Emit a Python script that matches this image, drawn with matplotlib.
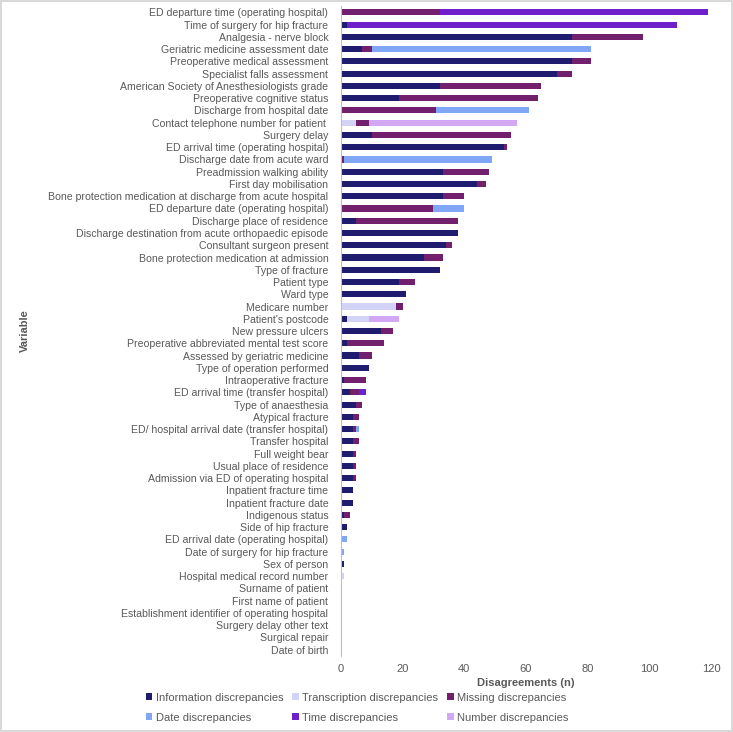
import matplotlib
matplotlib.use("Agg")
import matplotlib.pyplot as plt
import numpy as np

plt.rcParams["font.family"] = ["Liberation Sans", "DejaVu Sans"]

variables = [
    "ED departure time (operating hospital)",
    "Time of surgery for hip fracture",
    "Analgesia - nerve block",
    "Geriatric medicine assessment date",
    "Preoperative medical assessment",
    "Specialist falls assessment",
    "American Society of Anesthesiologists grade",
    "Preoperative cognitive status",
    "Discharge from hospital date",
    "Contact telephone number for patient ",
    "Surgery delay",
    "ED arrival time (operating hospital)",
    "Discharge date from acute ward",
    "Preadmission walking ability",
    "First day mobilisation",
    "Bone protection medication at discharge from acute hospital",
    "ED departure date (operating hospital)",
    "Discharge place of residence",
    "Discharge destination from acute orthopaedic episode",
    "Consultant surgeon present",
    "Bone protection medication at admission",
    "Type of fracture",
    "Patient type",
    "Ward type",
    "Medicare number",
    "Patient's postcode",
    "New pressure ulcers",
    "Preoperative abbreviated mental test score",
    "Assessed by geriatric medicine",
    "Type of operation performed",
    "Intraoperative fracture",
    "ED arrival time (transfer hospital)",
    "Type of anaesthesia",
    "Atypical fracture",
    "ED/ hospital arrival date (transfer hospital)",
    "Transfer hospital",
    "Full weight bear",
    "Usual place of residence",
    "Admission via ED of operating hospital",
    "Inpatient fracture time",
    "Inpatient fracture date",
    "Indigenous status",
    "Side of hip fracture",
    "ED arrival date (operating hospital)",
    "Date of surgery for hip fracture",
    "Sex of person",
    "Hospital medical record number",
    "Surname of patient",
    "First name of patient",
    "Establishment identifier of operating hospital",
    "Surgery delay other text",
    "Surgical repair",
    "Date of birth",
]

information = [0, 2, 75, 7, 75, 70, 32, 19, 0, 0, 10, 53, 0, 33, 44, 33, 0, 5, 38, 34, 27, 32, 19, 21,
               0, 2, 13, 2, 6, 9, 1, 3, 5, 4, 4, 4, 4, 4, 4, 4, 4, 1, 2, 0, 0, 1, 0, 0, 0, 0, 0, 0, 0]
transcription = [0, 0, 0, 0, 0, 0, 0, 0, 0, 5, 0, 0, 0, 0, 0, 0, 0, 0, 0, 0, 0, 0, 0, 0,
                 18, 7, 0, 0, 0, 0, 0, 0, 0, 0, 0, 0, 0, 0, 0, 0, 0, 0, 0, 0, 0, 0, 1, 0, 0, 0, 0, 0, 0]
missing = [32, 0, 23, 3, 6, 5, 33, 45, 31, 4, 45, 1, 1, 15, 3, 7, 30, 33, 0, 2, 6, 0, 5, 0,
           2, 0, 4, 12, 4, 0, 7, 3, 2, 2, 1, 2, 1, 1, 1, 0, 0, 2, 0, 0, 0, 0, 0, 0, 0, 0, 0, 0, 0]
date = [0, 0, 0, 71, 0, 0, 0, 0, 30, 0, 0, 0, 48, 0, 0, 0, 10, 0, 0, 0, 0, 0, 0, 0,
        0, 0, 0, 0, 0, 0, 0, 0, 0, 0, 1, 0, 0, 0, 0, 0, 0, 0, 0, 2, 1, 0, 0, 0, 0, 0, 0, 0, 0]
time = [87, 107, 0, 0, 0, 0, 0, 0, 0, 0, 0, 0, 0, 0, 0, 0, 0, 0, 0, 0, 0, 0, 0, 0,
        0, 0, 0, 0, 0, 0, 0, 2, 0, 0, 0, 0, 0, 0, 0, 0, 0, 0, 0, 0, 0, 0, 0, 0, 0, 0, 0, 0, 0]
number = [0, 0, 0, 0, 0, 0, 0, 0, 0, 48, 0, 0, 0, 0, 0, 0, 0, 0, 0, 0, 0, 0, 0, 0,
          0, 10, 0, 0, 0, 0, 0, 0, 0, 0, 0, 0, 0, 0, 0, 0, 0, 0, 0, 0, 0, 0, 0, 0, 0, 0, 0, 0, 0]

series = [
    ("Information discrepancies", information, "#1f1b6e"),
    ("Transcription discrepancies", transcription, "#d3d3f8"),
    ("Missing discrepancies", missing, "#721f6e"),
    ("Date discrepancies", date, "#7fa7f5"),
    ("Time discrepancies", time, "#6f20cb"),
    ("Number discrepancies", number, "#d2a8f4"),
]

text_col = "#595959"

fig = plt.figure(figsize=(7.33, 7.32), dpi=100)
fig.patch.set_edgecolor("#d9d9d9")
fig.patch.set_linewidth(1.5)
ax = fig.add_axes([0.465, 0.104, 0.505, 0.8875])

y = np.arange(len(variables))
left = np.zeros(len(variables))
handles = {}
for name, vals, col in series:
    vals = np.array(vals, dtype=float)
    b = ax.barh(y, vals, left=left, height=0.5, color=col, label=name)
    handles[name] = b
    left += vals

ax.set_ylim(len(variables) - 0.5, -0.5)
ax.set_yticks(y)
ax.set_yticklabels(variables, fontsize=7.6, color=text_col)
ax.set_xlim(0, 120)
ax.set_xticks(range(0, 121, 20))
ax.tick_params(axis="x", labelsize=8, colors=text_col, length=0, pad=6)
ax.tick_params(axis="y", length=0, pad=9)

for s in ["top", "right", "bottom"]:
    ax.spines[s].set_visible(False)
ax.spines["left"].set_color("#bfbfbf")

ax.set_xlabel("Disagreements (n)", fontsize=8, fontweight="bold", color=text_col, labelpad=3)
fig.text(0.034, 0.548, "Variable", rotation=90, fontsize=8, fontweight="bold",
         color=text_col, ha="center", va="center")

order = ["Information discrepancies", "Date discrepancies",
         "Transcription discrepancies", "Time discrepancies",
         "Missing discrepancies", "Number discrepancies"]
leg = fig.legend([handles[n] for n in order], order, loc="center", ncol=3,
                 bbox_to_anchor=(0.487, 0.033), frameon=False, fontsize=8,
                 handlelength=0.6, handleheight=0.6, handletextpad=0.3,
                 columnspacing=0.8, labelspacing=0.9)
for t in leg.get_texts():
    t.set_color(text_col)

fig.savefig("out.png", dpi=100)
